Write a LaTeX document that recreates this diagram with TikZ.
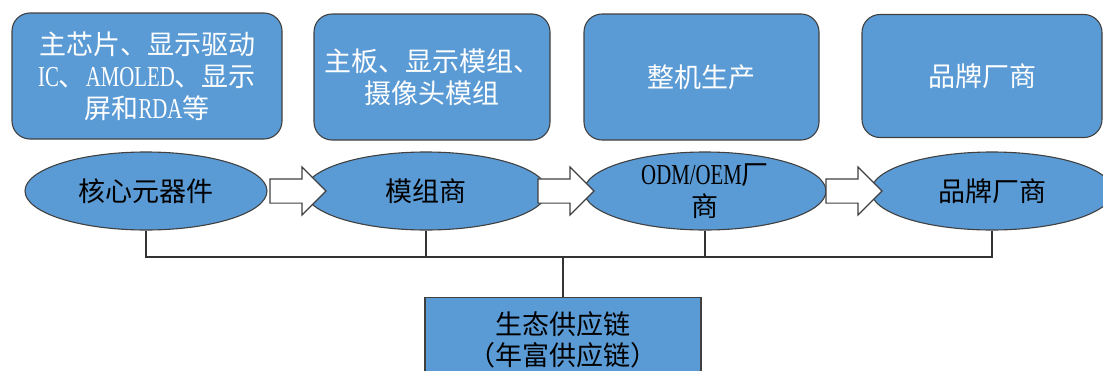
\documentclass[tikz,border=0pt]{standalone}
\usepackage{fontspec}
\setmainfont{Noto Sans CJK SC}
\newfontfamily\latin[FakeStretch=0.72,Scale=1.07]{Liberation Serif}
\usepackage{xcolor}
\usepackage{tikz}
\usetikzlibrary{shapes.geometric,shapes.arrows,positioning}
\definecolor{boxblue}{HTML}{5B9BD5}

\begin{document}
\begin{tikzpicture}[x=1pt, y=-1pt,
                    topbox/.style={draw=black!75, line width=1.1pt, fill=boxblue, rounded corners=18pt,
                                   text=white, align=center, inner sep=0pt,
                                   font=\fontsize{27}{32}\selectfont},
                    stage/.style={ellipse, draw=black!75, line width=1.1pt, fill=boxblue, align=center,
                                  inner xsep=0pt, inner ysep=-8pt, minimum width=242pt, minimum height=78pt,
                                  font=\fontsize{27}{32}\selectfont},
                    flowarrow/.style={single arrow, draw=black!75, line width=1.1pt, fill=white,
                                      single arrow head extend=12pt, minimum height=56pt,
                                      inner xsep=0pt, inner ysep=11.5pt, text height=0pt, text depth=0pt,
                                      outer sep=0pt, anchor=tail},
                    link/.style={line width=1.1pt, black!80},
                    basebox/.style={draw=black!75, line width=1.1pt, fill=boxblue, align=center,
                                    minimum width=276pt, minimum height=84pt, anchor=north,
                                    font=\fontsize{27}{31}\selectfont},
                   ]

\clip (0,0) rectangle (1103,370);

% top row
\node[topbox, minimum width=270pt, minimum height=126pt] (chipbox) at (147,76)
     {主芯片、显示驱动\\{\latin IC}、{\latin AMOLED}、显示\\屏和{\latin RDA}等};
\node[topbox, minimum width=236pt, minimum height=126pt] (boardbox) at (432,77)
     {主板、显示模组、\\摄像头模组};
\node[topbox, minimum width=235pt, minimum height=126pt] (assemblybox) at (701.5,77) {整机生产};
\node[topbox, minimum width=240pt, minimum height=123pt] (brandbox) at (982,76) {品牌厂商};

% chain
\node[stage] (core) at (146,191) {核心元器件};
\node[stage] (module) at (426,191) {模组商};
\node[stage] (odm) at (705,191) {{\latin ODM/OEM}厂\\商};
\node[stage] (brand) at (992,191) {品牌厂商};

\node[flowarrow] (arrowA) at (270,191) {};
\node[flowarrow] (arrowB) at (538,191) {};
\node[flowarrow] (arrowC) at (826,191) {};

% supply chain
\node[basebox] (eco) at (563,297) {生态供应链\\（年富供应链）};
\coordinate (bus) at (563,257);

\draw[link] (core.south) |- (bus);
\draw[link] (module.south) |- (bus);
\draw[link] (odm.south) |- (bus);
\draw[link] (brand.south) |- (bus);
\draw[link] (bus) -- (eco.north);

\end{tikzpicture}
\end{document}
